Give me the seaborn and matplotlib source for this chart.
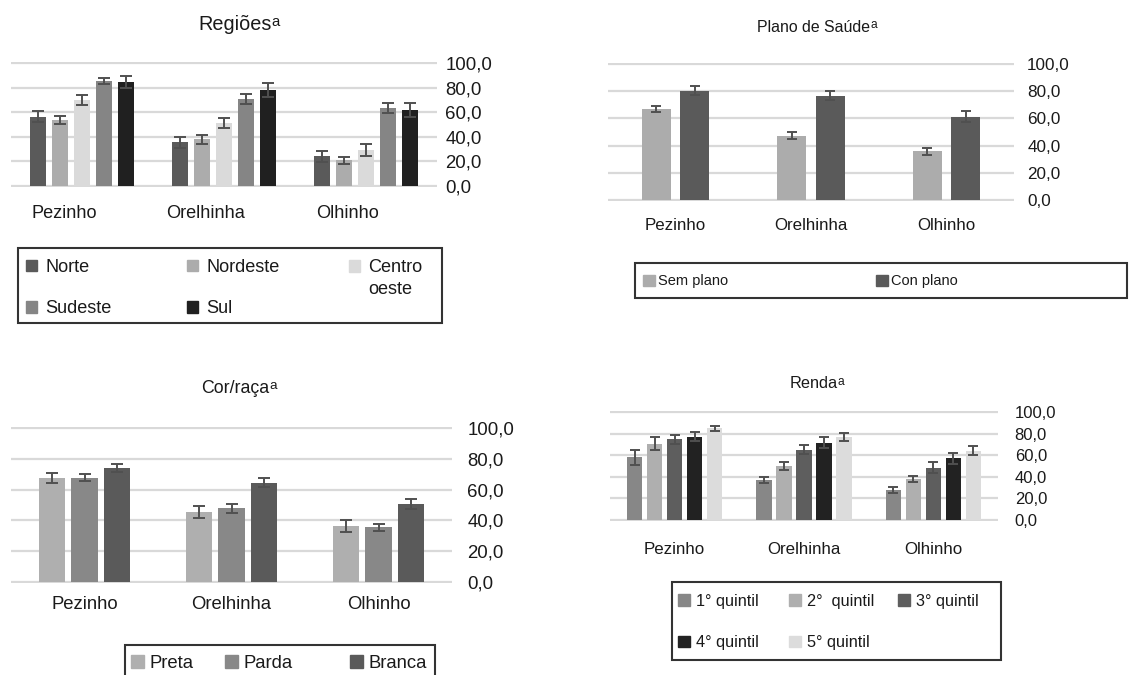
import numpy as np
import pandas as pd
import matplotlib
matplotlib.use('Agg')
import matplotlib.pyplot as plt
import matplotlib.patches as mpatches
import matplotlib.transforms as mtransforms
import matplotlib.text as mtext
from matplotlib.ticker import FuncFormatter
import seaborn as sns

# dados (% de realizacao, com IC)
exames = ['Pezinho', 'Orelhinha', 'Olhinho']

# Regioes
regioes = ['Norte', 'Nordeste', 'Centro\noeste', 'Sudeste', 'Sul']
reg_norte = [56.5, 35.5, 24.0]
reg_nordeste = [53.9, 37.9, 21.0]
reg_centro = [69.9, 51.0, 29.3]
reg_sudeste = [85.3, 70.7, 63.5]
reg_sul = [84.3, 77.9, 61.9]
reg_err_norte = [4.8, 4.5, 4.5]
reg_err_nordeste = [3.3, 3.9, 2.7]
reg_err_centro = [4.3, 4.2, 4.5]
reg_err_sudeste = [2.7, 4.2, 4.1]
reg_err_sul = [4.9, 5.6, 5.5]
reg_cores = ['#5a5a5a', '#acacac', '#dadada', '#858585', '#202020']

# Plano de saude
planos = ['Sem plano', 'Con plano']
plano_sem = [66.7, 47.3, 35.7]
plano_com = [80.4, 76.6, 61.4]
plano_err_sem = [2.2, 2.4, 2.3]
plano_err_com = [3.5, 3.4, 3.7]
plano_cores = ['#acacac', '#5a5a5a']

# Cor/raca
racas = ['Preta', 'Parda', 'Branca']
cor_preta = [67.7, 45.5, 36.4]
cor_parda = [67.7, 47.9, 35.5]
cor_branca = [74.0, 64.5, 50.6]
cor_err_preta = [3.2, 3.9, 3.9]
cor_err_parda = [2.2, 2.8, 2.3]
cor_err_branca = [2.5, 2.8, 3.0]
cor_cores = ['#afafaf', '#888888', '#5a5a5a']

# Renda
quintis = ['1° quintil', '2°  quintil', '3° quintil', '4° quintil', '5° quintil']
renda_q1 = [57.9, 37.3, 27.9]
renda_q2 = [70.6, 50.0, 37.9]
renda_q3 = [74.5, 65.2, 48.5]
renda_q4 = [77.0, 71.5, 57.0]
renda_q5 = [84.8, 77.0, 64.2]
renda_err_q1 = [6.8, 3.0, 2.6]
renda_err_q2 = [6.0, 3.5, 2.7]
renda_err_q3 = [4.5, 4.0, 5.0]
renda_err_q4 = [4.1, 5.0, 4.9]
renda_err_q5 = [2.6, 3.5, 4.4]
renda_cores = ['#878787', '#afafaf', '#5e5e5e', '#222222', '#dcdcdc']

sns.set_style('white')
plt.rcParams['font.family'] = ['Liberation Sans', 'DejaVu Sans']
plt.rcParams['text.color'] = '#1a1a1a'

W, H = 1129, 675
fig = plt.figure(figsize=(W / 100, H / 100), dpi=100)


def caixa(x0, x1, y0, y1):
    return [x0 / W, 1 - y1 / H, (x1 - x0) / W, (y1 - y0) / H]


def painel(rect, grupos, valores, erros, cores, largura, gap,
           fs_x, fs_y, pad_x, pad_y, capsize, dx=0):
    ax = fig.add_axes(rect)
    linhas = []
    for g, vals in zip(grupos, valores):
        for e, v in zip(exames, vals):
            linhas.append({'exame': e, 'grupo': g, 'valor': v})
    df = pd.DataFrame(linhas)
    sns.barplot(data=df, x='exame', y='valor', hue='grupo', order=exames,
                hue_order=grupos, palette=cores, saturation=1, width=largura,
                gap=gap, errorbar=None, legend=False, linewidth=0, ax=ax)
    for cont, errs in zip(ax.containers, erros):
        barras = sorted(cont.patches, key=lambda p: p.get_x())
        xs = [p.get_x() + p.get_width() / 2 for p in barras]
        ys = [p.get_height() for p in barras]
        ax.errorbar(xs, ys, yerr=errs, fmt='none', ecolor='#505050',
                    elinewidth=1.4, capsize=capsize, capthick=1.4, zorder=5)
    ax.set_xlim(-0.5, 2.5)
    ax.set_ylim(-0.8, 100.8)
    ax.set_yticks(np.arange(0, 101, 20))
    ax.yaxis.set_major_formatter(FuncFormatter(lambda v, p: f'{v:.1f}'.replace('.', ',')))
    ax.yaxis.tick_right()
    ax.grid(axis='y', color='#d9d9d9', linewidth=1.6)
    ax.set_axisbelow(True)
    for s in ax.spines.values():
        s.set_visible(False)
    ax.tick_params(axis='both', length=0, labelcolor='#1a1a1a')
    ax.tick_params(axis='x', labelsize=fs_x, pad=pad_x)
    ax.tick_params(axis='y', labelsize=fs_y, pad=pad_y)
    ax.set_xlabel('')
    ax.set_ylabel('')
    if dx:
        off = mtransforms.ScaledTranslation(dx / 100, 0, fig.dpi_scale_trans)
        for lab in ax.get_xticklabels():
            lab.set_transform(lab.get_transform() + off)
    return ax


def titulo(xc, base, texto, fs):
    fpx = fs * 100 / 72
    t = fig.text((xc - 0.22 * fpx) / W, 1 - base / H, texto, fontsize=fs,
                 ha='center', va='baseline')
    sup = mtext.Annotation('a', xy=(1.0, H - base + 0.22 * fpx),
                           xycoords=(t, 'figure pixels'), fontsize=fs * 0.75,
                           ha='left', va='baseline')
    fig.add_artist(sup)


def legenda(colunas, grupos, cores, xs, y1, fs, hl, htp, ls, frame):
    fpx = fs * 100 / 72
    legs = []
    for col, x in zip(colunas, xs):
        handles = [mpatches.Patch(color=cores[grupos.index(g)]) for g in col]
        leg = fig.legend(handles, col, loc='upper left',
                         bbox_to_anchor=(x / W, 1 - (y1 - 0.39 * fpx) / H),
                         frameon=False, borderpad=0, borderaxespad=0, fontsize=fs,
                         handlelength=hl, handleheight=hl, handletextpad=htp,
                         labelspacing=ls)
        legs.append(leg)
    x0, x1, y0, y1b = frame
    fig.add_artist(mpatches.Rectangle((x0 / W, 1 - y1b / H), (x1 - x0) / W, (y1b - y0) / H,
                                      transform=fig.transFigure, fill=False,
                                      edgecolor='#333333', linewidth=1.5))
    return legs


# Regioes
painel(caixa(11, 437, 62, 187), regioes,
       [reg_norte, reg_nordeste, reg_centro, reg_sudeste, reg_sul],
       [reg_err_norte, reg_err_nordeste, reg_err_centro, reg_err_sudeste, reg_err_sul],
       reg_cores, 0.775, 0.24, 13.1, 13.4, 13, 6, 4, dx=-18)
titulo(239, 30, 'Regiões', 14.3)
legs = legenda([['Norte', 'Sudeste'], ['Nordeste', 'Sul'], ['Centro\noeste']],
               regioes, reg_cores, [26, 187, 349], 266, 13.1, 0.62, 0.45, 1.35,
               (18, 442, 248, 323))
# rotulo em duas linhas: marcador ao lado da primeira linha
legs[2].texts[0].set_linespacing(1.4)
h = legs[2].legend_handles[0]
h.set_y(h.get_y() + 0.5 * 1.4 * 13.1)

# Plano de saude
painel(caixa(608, 1014, 63, 201), planos, [plano_sem, plano_com],
       [plano_err_sem, plano_err_com], plano_cores, 0.57, 0.25, 12.2, 12.3, 12, 9.5, 3.5)
titulo(817, 31.7, 'Plano de Saúde', 11.4)
legenda([['Sem plano'], ['Con plano']], planos, plano_cores, [643, 876], 280,
        10.5, 0.8, 0.2, 1.0, (635, 1127, 263, 298))

# Cor/raca
painel(caixa(11, 452, 427, 583), racas, [cor_preta, cor_parda, cor_branca],
       [cor_err_preta, cor_err_parda, cor_err_branca], cor_cores, 0.667, 0.2,
       13.3, 13.4, 9.5, 11, 4)
titulo(239, 393, 'Cor/raça', 12.8)
legenda([['Preta'], ['Parda'], ['Branca']], racas, cor_cores, [131, 225, 350], 662,
        13.3, 0.69, 0.3, 1.0, (125, 435, 645, 700))

# Renda
painel(caixa(610, 998, 411, 521), quintis,
       [renda_q1, renda_q2, renda_q3, renda_q4, renda_q5],
       [renda_err_q1, renda_err_q2, renda_err_q3, renda_err_q4, renda_err_q5],
       renda_cores, 0.774, 0.23, 12.2, 12, 15, 12, 3.5)
titulo(817, 388.3, 'Renda', 11.7)
legenda([[quintis[0], quintis[3]], [quintis[1], quintis[4]], [quintis[2]]],
        quintis, renda_cores, [678, 789, 898], 600, 11.7, 0.72, 0.4, 1.62,
        (672, 1001, 582, 660))

fig.savefig('out.png', dpi=100)
